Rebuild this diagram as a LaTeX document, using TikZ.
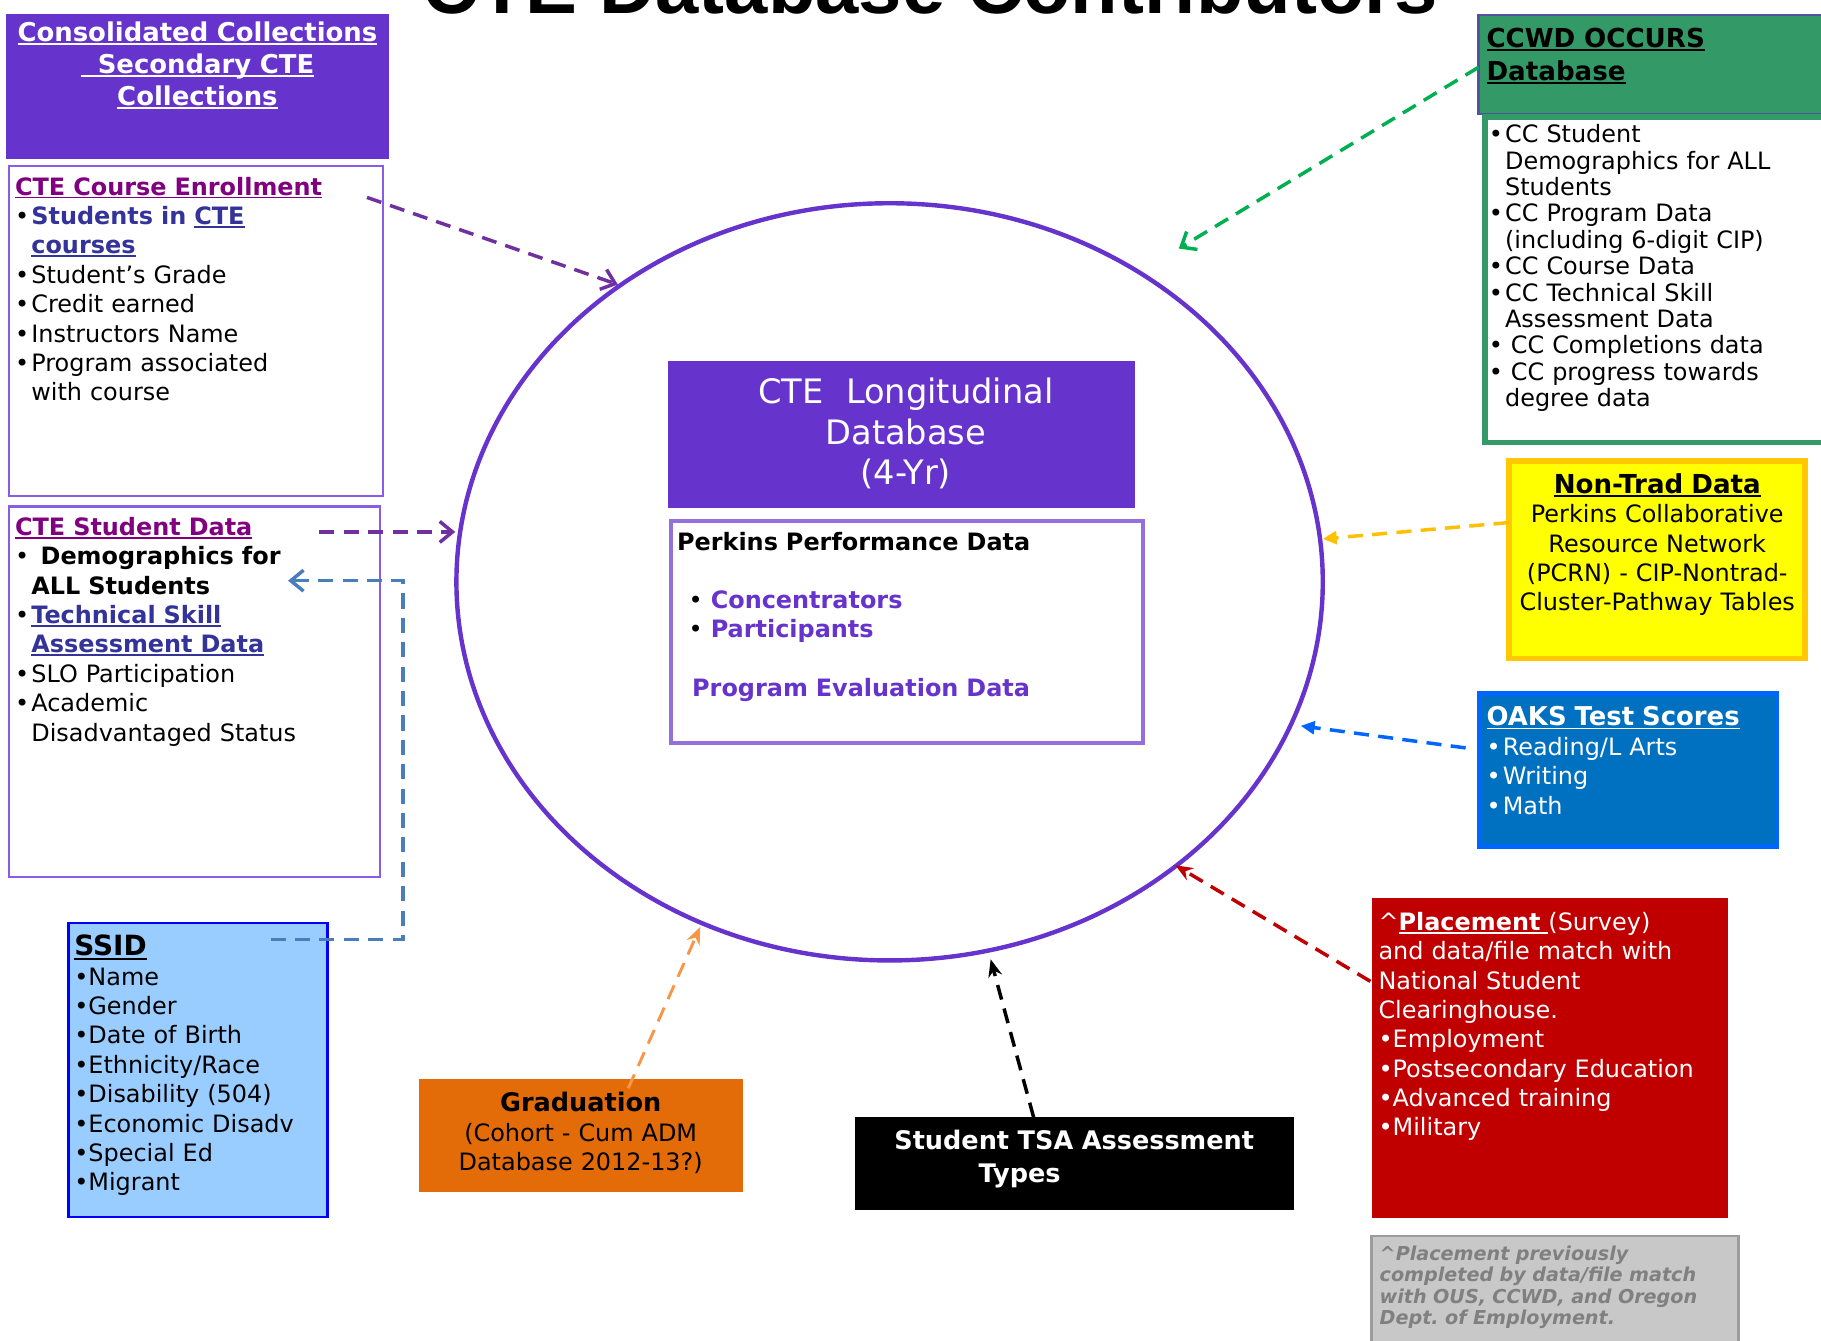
\documentclass[tikz,border=0pt]{standalone}
\usepackage{fontspec}
\setmainfont{DejaVu Sans}
\newfontfamily\titlefont{Liberation Sans}
\usetikzlibrary{shapes.geometric,arrows.meta}
\frenchspacing

\newcommand\uline[1]{\leavevmode\setbox0\hbox{#1}\rlap{\rule[-0.14em]{\wd0}{0.075em}}\box0}

\definecolor{cpurple}{HTML}{6633CC}
\definecolor{boxpurple}{HTML}{8A5CE6}
\definecolor{tmag}{HTML}{800080}
\definecolor{tblue}{HTML}{333399}
\definecolor{cperkb}{HTML}{9370DB}
\definecolor{cgreen}{HTML}{339966}
\definecolor{hdrborder}{HTML}{55509F}
\definecolor{cyellow}{HTML}{FFFF00}
\definecolor{cgold}{HTML}{FFC800}
\definecolor{coaks}{HTML}{0070C0}
\definecolor{cbright}{HTML}{0066FF}
\definecolor{cred}{HTML}{C00000}
\definecolor{cgray}{HTML}{C8C8C8}
\definecolor{cgrayb}{HTML}{9C9C9C}
\definecolor{cgtext}{HTML}{808080}
\definecolor{corange}{HTML}{E36C09}
\definecolor{clight}{HTML}{99CCFF}
\definecolor{cblue}{HTML}{0000FF}
\definecolor{apurple}{HTML}{7030A0}
\definecolor{agreen}{HTML}{00B050}
\definecolor{ayellow}{HTML}{FFC000}
\definecolor{ablue}{HTML}{0066FF}
\definecolor{ared}{HTML}{C00000}
\definecolor{aorange}{HTML}{F79646}
\definecolor{asteel}{HTML}{4A7EBB}

\newcommand\fb{\fontsize{20.6}{25.3}\selectfont}
\newcommand\bu[1]{\makebox[#1][l]{•}}

\tikzset{
  box/.style={inner sep=0pt, outer sep=0pt, anchor=north west},
  txt/.style={inner sep=0pt, outer sep=0pt, anchor=base west, align=left, text width=320pt},
  ctxt/.style={inner sep=0pt, outer sep=0pt, anchor=base, align=center},
  arr/.style={dash pattern=on 13pt off 8pt, line width=3pt},
  openhead/.style={-{Straight Barb[length=11pt,width=18pt]}},
  filledhead/.style={-{Triangle[length=12pt,width=11pt]}},
  stealthhead/.style={-{Stealth[length=15pt,width=12pt]}}
}

\begin{document}
\begin{tikzpicture}[x=1pt,y=-1pt]
\useasboundingbox (0,0) rectangle (1568,1154);
\clip (0,0) rectangle (1568,1154);

% title (cut at top, as in the reference)
\node[inner sep=0pt, anchor=base, font=\titlefont\bfseries\fontsize{67}{67}\selectfont] (title) at (801,12) {CTE Database Contributors};

% central ellipse
\node[draw=cpurple, line width=3.8pt, ellipse, minimum width=746pt, minimum height=652pt, inner sep=0pt] (db) at (766,501) {};

% central header
\node[box, fill=cpurple, minimum width=402pt, minimum height=126pt] (cte) at (575,311) {};
\node[ctxt, text width=400pt, text=white, font=\fontsize{29}{35}\selectfont] (ctet) at (780,347.5) {CTE\ \ Longitudinal\\Database\\(4-Yr)};

% Perkins box
\node[box, fill=white, draw=cperkb, line width=3.5pt, minimum width=406pt, minimum height=191pt] (perk) at (578,449) {};
\node[txt, font=\fb\bfseries] (perkt) at (583,474) {Perkins Performance Data};
\node[txt, font=\fb] (perkl) at (593,524) {\bu{19pt}\textcolor{cpurple}{\bfseries Concentrators}\\\bu{19pt}\textcolor{cpurple}{\bfseries Participants}};
\node[txt, font=\fb\bfseries, text=cpurple] (perkp) at (596,600) {Program Evaluation Data};

% top-left header
\node[box, fill=cpurple, minimum width=330pt, minimum height=125pt] (hdr) at (5,12) {};
\node[ctxt, text width=330pt, text=white, font=\bfseries\fontsize{22.3}{27.5}\selectfont] (hdrt) at (170,36) {\uline{Consolidated Collections}\\\uline{\ \ Secondary CTE}\\\uline{Collections}};

% CTE Course Enrollment
\node[box, fill=white, draw=boxpurple, line width=2pt, minimum width=322pt, minimum height=284pt] (enr) at (8,143) {};
\node[txt, font=\fb] (enrt) at (13,168) {\textcolor{tmag}{\bfseries\uline{CTE Course Enrollment}}\\
\bu{14pt}\textcolor{tblue}{\bfseries Students in \uline{CTE}}\\
\hspace*{14pt}\textcolor{tblue}{\bfseries\uline{courses}}\\
\bu{14pt}Student’s Grade\\
\bu{14pt}Credit earned\\
\bu{14pt}Instructors Name\\
\bu{14pt}Program associated\\
\hspace*{14pt}with course};

% CTE Student Data
\node[box, fill=white, draw=boxpurple, line width=2pt, minimum width=319pt, minimum height=319pt] (std) at (8,436) {};
\node[txt, font=\fb] (stdt) at (13,461) {\textcolor{tmag}{\bfseries\uline{CTE Student Data}}\\
\bu{22pt}{\bfseries Demographics for}\\
\hspace*{14pt}{\bfseries ALL Students}\\
\bu{14pt}\textcolor{tblue}{\bfseries\uline{Technical Skill}}\\
\hspace*{14pt}\textcolor{tblue}{\bfseries\uline{Assessment Data}}\\
\bu{14pt}SLO Participation\\
\bu{14pt}Academic\\
\hspace*{14pt}Disadvantaged Status};

% CCWD
\node[box, fill=cgreen, draw=hdrborder, line width=2pt, minimum width=300pt, minimum height=85pt] (ccwdh) at (1273,13) {};
\node[txt, font=\bfseries\fontsize{22.5}{28}\selectfont] (ccwdht) at (1280,41) {\uline{CCWD OCCURS}\\\uline{Database}};
\node[box, fill=white, draw=cgreen, line width=5pt, minimum width=300pt, minimum height=280pt] (ccwdb) at (1279,101) {};
\node[txt, font=\fontsize{20.6}{22.7}\selectfont] (ccwdbt) at (1282,123) {\bu{14pt}CC Student\\
\hspace*{14pt}Demographics for ALL\\
\hspace*{14pt}Students\\
\bu{14pt}CC Program Data\\
\hspace*{14pt}(including 6-digit CIP)\\
\bu{14pt}CC Course Data\\
\bu{14pt}CC Technical Skill\\
\hspace*{14pt}Assessment Data\\
\bu{19pt}CC Completions data\\
\bu{19pt}CC progress towards\\
\hspace*{14pt}degree data};

% Non-Trad
\node[box, fill=cyellow, draw=cgold, line width=5pt, minimum width=255pt, minimum height=170pt] (ntrad) at (1299,397) {};
\node[ctxt, text width=255pt, font=\fontsize{20.6}{25.2}\selectfont] (ntradt) at (1427,425) {{\bfseries\fontsize{22.5}{25.2}\selectfont\uline{Non-Trad Data}}\\Perkins Collaborative\\Resource Network\\(PCRN) - CIP-Nontrad-\\Cluster-Pathway Tables};

% OAKS
\node[box, fill=coaks, draw=cbright, line width=4pt, minimum width=256pt, minimum height=132pt] (oaks) at (1274,597) {};
\node[txt, text=white, font=\fb] (oakst) at (1280,625) {{\bfseries\fontsize{22.3}{25.3}\selectfont\uline{OAKS Test Scores}}\\
\bu{14pt}Reading/L Arts\\
\bu{14pt}Writing\\
\bu{14pt}Math};

% Placement
\node[box, fill=cred, minimum width=307pt, minimum height=276pt] (plc) at (1181,773) {};
\node[txt, text=white, font=\fb] (plct) at (1187,801) {\textasciicircum{\bfseries\uline{Placement }}(Survey)\\
and data/file match with\\
National Student\\
Clearinghouse.\\
•Employment\\
•Postsecondary Education\\
•Advanced training\\
•Military};

% note
\node[box, fill=cgray, draw=cgrayb, line width=2pt, minimum width=316pt, minimum height=100pt] (note) at (1181,1064) {};
\node[txt, text=cgtext, font=\bfseries\itshape\fontsize{16.5}{18.5}\selectfont] (notet) at (1188,1085) {\textasciicircum Placement previously\\
completed by data/file match\\
with OUS, CCWD, and Oregon\\
Dept. of Employment.};

% TSA
\node[box, fill=black, minimum width=378pt, minimum height=80pt] (tsa) at (736,962) {};
\node[ctxt, text width=378pt, text=white, font=\bfseries\fontsize{22}{28}\selectfont] (tsat) at (925,990) {Student TSA Assessment\\Types\hspace*{94pt}};

% Graduation
\node[box, fill=corange, minimum width=279pt, minimum height=97pt] (grad) at (361,929) {};
\node[ctxt, text width=279pt, font=\fontsize{20.6}{25.5}\selectfont] (gradt) at (500,957) {{\bfseries\fontsize{22}{25.5}\selectfont Graduation}\\(Cohort - Cum ADM\\Database 2012-13?)};

% SSID
\node[box, fill=clight, draw=cblue, line width=2pt, minimum width=223pt, minimum height=253pt] (ssid) at (59,795) {};
\node[txt, font=\fontsize{20.6}{25.3}\selectfont] (ssidt) at (64,823) {{\bfseries\fontsize{24}{25.3}\selectfont\uline{SSID}}\\
•Name\\
•Gender\\
•Date of Birth\\
•Ethnicity/Race\\
•Disability (504)\\
•Economic Disadv\\
•Special Ed\\
•Migrant};

% connector coordinates
\coordinate (p1s) at (316,170);
\coordinate (p1e) at (532,245);
\coordinate (p2s) at (275,458);
\coordinate (p2e) at (392,458);
\coordinate (s1) at (233,809);
\coordinate (s2) at (347,809);
\coordinate (s3) at (347,500);
\coordinate (s4) at (248,500);
\coordinate (g1) at (1273,58);
\coordinate (g2) at (1015,214);
\coordinate (y1) at (1299,450);
\coordinate (y2) at (1139,464);
\coordinate (b1) at (1262,644);
\coordinate (b2) at (1120,625);
\coordinate (r1) at (1180,845);
\coordinate (r2) at (1012,745);
\coordinate (k1) at (890,962);
\coordinate (k2) at (853,826);
\coordinate (o1) at (541,937);
\coordinate (o2) at (603,798);

\draw[arr, apurple, openhead] (p1s) -- (p1e);
\draw[arr, apurple, openhead] (p2s) -- (p2e);
\draw[arr, asteel, openhead] (s1) -- (s2) -- (s3) -- (s4);
\draw[arr, agreen, openhead] (g1) -- (g2);
\draw[arr, ayellow, filledhead] (y1) -- (y2);
\draw[arr, ablue, filledhead] (b1) -- (b2);
\draw[arr, ared, stealthhead] (r1) -- (r2);
\draw[arr, black, stealthhead] (k1) -- (k2);
\draw[arr, aorange, line width=2.5pt, stealthhead] (o1) -- (o2);
\end{tikzpicture}
\end{document}
